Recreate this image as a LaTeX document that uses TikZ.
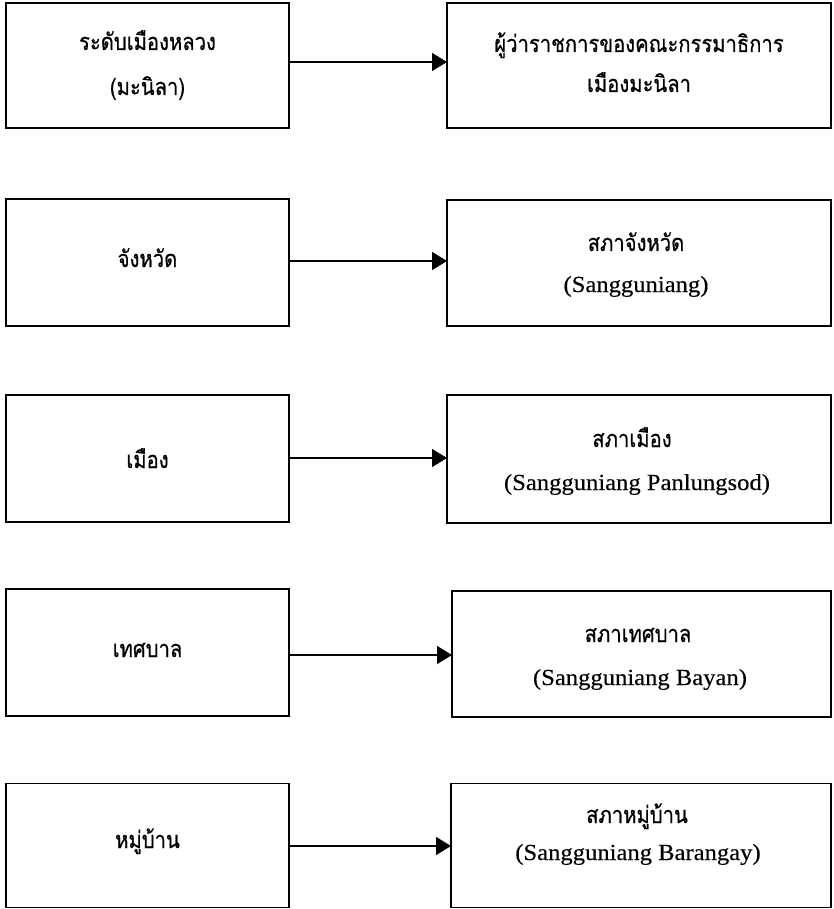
\documentclass[tikz,border=0pt]{standalone}
\usepackage{fontspec}
\setmainfont{Liberation Serif}
\newfontfamily\thaifont[Script=Thai,FakeStretch=0.86,FakeBold=0.6]{Loma}
\newfontfamily\latfont[FakeStretch=1.07,FakeBold=0.3]{Liberation Serif}
\usetikzlibrary{arrows.meta}
\begin{document}
\begin{tikzpicture}[x=1pt,y=-1pt,
  box/.style={draw, line width=1.5pt, inner sep=0pt, outer sep=0pt},
  th/.style={font=\thaifont\fontsize{23.5}{28}\selectfont, anchor=base, inner sep=0pt},
  la/.style={font=\latfont\fontsize{23}{27}\selectfont, anchor=base, inner sep=0pt},
  conn/.style={line width=1.5pt, -{Triangle[length=15pt,width=18pt]}}]
\useasboundingbox (0,0) rectangle (833,909);
% boxes
\node[box, minimum width=283pt, minimum height=125pt] (L1) at (147.5,65.5) {};
\node[box, minimum width=384pt, minimum height=125pt] (R1) at (639,65.5) {};
\node[box, minimum width=283pt, minimum height=127pt] (L2) at (147.5,262.5) {};
\node[box, minimum width=384pt, minimum height=126pt] (R2) at (639,263) {};
\node[box, minimum width=283pt, minimum height=127pt] (L3) at (147.5,458.5) {};
\node[box, minimum width=384pt, minimum height=128pt] (R3) at (639,459) {};
\node[box, minimum width=283pt, minimum height=127pt] (L4) at (147.5,652.5) {};
\node[box, minimum width=379pt, minimum height=126pt] (R4) at (641.5,654) {};
\node[box, minimum width=283pt, minimum height=124pt] (L5) at (147.5,845.5) {};
\node[box, minimum width=380pt, minimum height=124pt] (R5) at (641,845.5) {};
% texts
\node[th] (t1a) at (147.5,50) {ระดับเมืองหลวง};
\node[th] (t1b) at (147.5,95) {(มะนิลา)};
\node[th] (u1a) at (639,52) {ผู้ว่าราชการของคณะกรรมาธิการ};
\node[th] (u1b) at (639,92) {เมืองมะนิลา};
\node[th] (t2) at (147.5,267) {จังหวัด};
\node[th] (u2a) at (636,251) {สภาจังหวัด};
\node[la] (u2b) at (636,292) {(Sangguniang)};
\node[th] (t3) at (147.5,468) {เมือง};
\node[th] (u3a) at (632,447) {สภาเมือง};
\node[la] (u3b) at (637,490) {(Sangguniang Panlungsod)};
\node[th] (t4) at (147.5,657) {เทศบาล};
\node[th] (u4a) at (638,642) {สภาเทศบาล};
\node[la] (u4b) at (640,685) {(Sangguniang Bayan)};
\node[th] (t5) at (147.5,848) {หมู่บ้าน};
\node[th] (u5a) at (637,823) {สภาหมู่บ้าน};
\node[la] (u5b) at (638,860) {(Sangguniang Barangay)};
% connectors
\draw[conn] (L1.east |- 0,62) -- (R1.west |- 0,62);
\draw[conn] (L2.east |- 0,261) -- (R2.west |- 0,261);
\draw[conn] (L3.east |- 0,458) -- (R3.west |- 0,458);
\draw[conn] (L4.east |- 0,655) -- (R4.west |- 0,655);
\draw[conn] (L5.east |- 0,846) -- (R5.west |- 0,846);
\end{tikzpicture}
\end{document}
